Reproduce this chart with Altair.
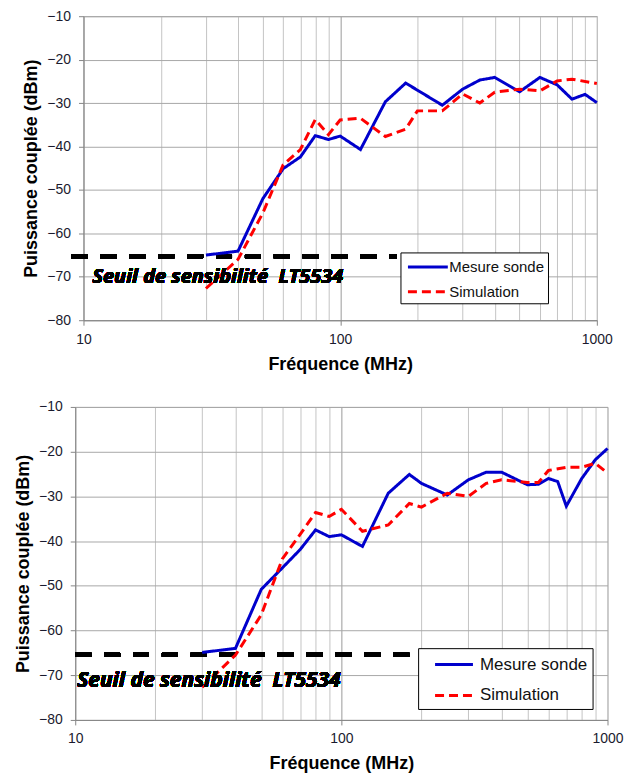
import altair as alt
import pandas as pd

SERIES = ["Mesure sonde", "Simulation"]
COLORS = ["#0000CC", "#FF0000"]
DASHES = [[1, 0], [9, 5]]

# ---- top panel data (MHz, dBm)
top_meas_freq = [30, 40, 50, 60, 70, 80, 90, 100, 120, 150, 180, 250, 300, 350, 400, 500, 600, 700, 800, 900, 1000]
top_meas_dbm = [-65.0, -64.1, -52.0, -45.1, -42.4, -37.5, -38.4, -37.6, -40.7, -29.7, -25.4, -30.5, -26.8, -24.7,
                -24.1, -27.4, -24.1, -25.8, -29.1, -28.0, -29.9]
top_sim_freq = [30, 40, 50, 60, 70, 80, 90, 100, 120, 150, 180, 200, 250, 300, 350, 400, 500, 600, 700, 800, 1000]
top_sim_dbm = [-72.7, -66.0, -55.3, -44.2, -40.7, -33.8, -37.3, -33.9, -33.5, -37.7, -36.0, -31.8, -31.8, -27.9,
               -30.0, -27.5, -26.8, -27.2, -24.9, -24.5, -25.5]

# ---- bottom panel data (MHz, dBm)
bot_meas_freq = [30, 40, 50, 60, 70, 80, 90, 100, 120, 150, 180, 200, 250, 300, 350, 400, 500, 550, 600, 650, 700,
                 800, 900, 1000]
bot_meas_dbm = [-64.9, -64.0, -50.8, -46.0, -41.9, -37.5, -39.0, -38.6, -41.2, -29.3, -25.1, -27.1, -29.7, -26.3,
                -24.6, -24.6, -27.4, -27.3, -26.0, -26.7, -32.2, -26.0, -21.8, -19.3]
bot_sim_freq = [30, 40, 50, 60, 70, 80, 90, 100, 120, 150, 180, 200, 250, 300, 350, 400, 500, 550, 600, 700, 800,
                900, 1000]
bot_sim_dbm = [-72.7, -65.5, -56.5, -44.0, -38.5, -33.6, -34.5, -32.9, -37.8, -36.4, -31.6, -32.4, -29.3, -30.0,
               -27.1, -26.3, -26.9, -26.9, -24.2, -23.5, -23.5, -22.6, -24.8]

x_ticks = [10, 20, 30, 40, 50, 60, 70, 80, 90, 100, 200, 300, 400, 500, 600, 700, 800, 900, 1000]
x_labels = [10, 100, 1000]
top_y_ticks = list(range(-80, -5, 5))
bot_y_ticks = list(range(-80, -5, 10))
threshold_label = "Seuil de sensibilité\u00a0 LT5534"
top_threshold = -65.3
bot_threshold = -65.4

FONT = "Liberation Sans"


def panel(mf, mv, sf, sv, y_ticks, width, height, thr, thr_x, thr_x2, txt_x, txt_y, txt_size, leg, spacer_x):
    df = pd.concat([
        pd.DataFrame({"freq": mf, "dbm": mv, "series": SERIES[0]}),
        pd.DataFrame({"freq": sf, "dbm": sv, "series": SERIES[1]}),
    ])
    lab_test = " || ".join(f"datum.value == {v}" for v in x_labels)
    x_enc = alt.X("freq:Q", scale=alt.Scale(type="log", domain=[10, 1000], nice=False),
                  axis=alt.Axis(values=x_ticks, labelExpr=f"({lab_test}) ? '' + datum.value : ''",
                                title="Fréquence (MHz)", grid=True,
                                gridColor={"condition": {"test": "datum.value == 100", "value": "#9a9a9a"},
                                           "value": "#c4c4c4"},
                                tickColor={"condition": {"test": lab_test, "value": "#868686"},
                                           "value": "transparent"},
                                tickSize=5, domainColor="#868686", labelFont=FONT, labelFontSize=14,
                                labelColor="#1a1a2e", labelPadding=7, titleFont=FONT, titleFontSize=18,
                                titleFontWeight="bold", titleColor="black", titlePadding=9,
                                labelOverlap=False, labelFlush=False))
    y_enc = alt.Y("dbm:Q", scale=alt.Scale(domain=[-80, -10], nice=False, zero=False),
                  axis=alt.Axis(values=y_ticks, labelExpr="datum.value % 10 == 0 ? datum.label : ''",
                                title="Puissance couplée (dBm)", grid=True,
                                gridColor={"condition": {"test": "datum.value % 10 == 0", "value": "#a8a8a8"},
                                           "value": "#cccccc"},
                                tickColor={"condition": {"test": "datum.value % 10 == 0", "value": "#868686"},
                                           "value": "transparent"},
                                tickSize=5, domainColor="#868686", labelFont=FONT, labelFontSize=14,
                                labelColor="#1a1a2e", labelPadding=8, titleFont=FONT, titleFontSize=18,
                                titleFontWeight="bold", titleColor="black", titlePadding=6,
                                labelOverlap=False, labelFlush=False))
    legend = alt.Legend(orient="none", legendX=leg["x"], legendY=leg["y"], fillColor="white",
                        strokeColor="black", padding=leg["pad"], rowPadding=leg["row"],
                        symbolType=leg["path"], symbolSize=400, symbolStrokeWidth=3,
                        labelFont=FONT, labelFontSize=leg["font"], labelColor="#111111",
                        labelOffset=leg["loff"], cornerRadius=0)
    lines = alt.Chart(df).mark_line(strokeWidth=3).encode(
        x=x_enc, y=y_enc,
        color=alt.Color("series:N", scale=alt.Scale(domain=SERIES, range=COLORS), legend=legend, title=None),
        strokeDash=alt.StrokeDash("series:N", scale=alt.Scale(domain=SERIES, range=DASHES), legend=legend,
                                  title=None),
        order="freq:Q",
    )
    thr_rule = alt.Chart(df).mark_rule(color="black", strokeWidth=4, strokeDash=[16, 13]).encode(
        x=alt.value(thr_x), x2=alt.value(thr_x2), y=alt.datum(thr))
    txt = alt.Chart(df).mark_text(align="left", baseline="middle", font="Open Sans", fontSize=txt_size,
                                  fontWeight="bold", fontStyle="italic", color="black").encode(
        x=alt.value(txt_x), y=alt.datum(txt_y), text=alt.value(threshold_label))
    layers = [thr_rule, lines, txt]
    if spacer_x is not None:
        spacer = alt.Chart(df).mark_rule(strokeOpacity=0, opacity=0).encode(
            x=alt.value(spacer_x), x2=alt.value(spacer_x + 1), y=alt.value(0))
        layers.append(spacer)
    return alt.layer(*layers).properties(width=width, height=height)


top_leg = {"x": 318, "y": 237, "pad": 3, "row": 5, "path": "M-0.7,0H3.3", "loff": 23, "font": 15}
bot_leg = {"x": 344, "y": 242, "pad": 5, "row": 11, "path": "M0.05,0H3.85", "loff": 34, "font": 17}

top = panel(top_meas_freq, top_meas_dbm, top_sim_freq, top_sim_dbm, top_y_ticks, 515, 305,
            top_threshold, -12, 314, 9, -70.1, 20, top_leg, 532)
bottom = panel(bot_meas_freq, bot_meas_dbm, bot_sim_freq, bot_sim_dbm, bot_y_ticks, 534, 314,
               bot_threshold, 0, 341, 2, -71.2, 21, bot_leg, None)

chart = alt.vconcat(top, bottom, spacing=25, center=True).resolve_scale(
    x="independent", y="independent", color="independent", strokeDash="independent"
).resolve_legend(color="independent", strokeDash="independent").properties(
    padding={"left": 14, "top": 7, "right": 0, "bottom": 0}
).configure_view(stroke="#a6a6a6")

chart.save("out.html", embed_options={"renderer": "svg", "actions": False})
